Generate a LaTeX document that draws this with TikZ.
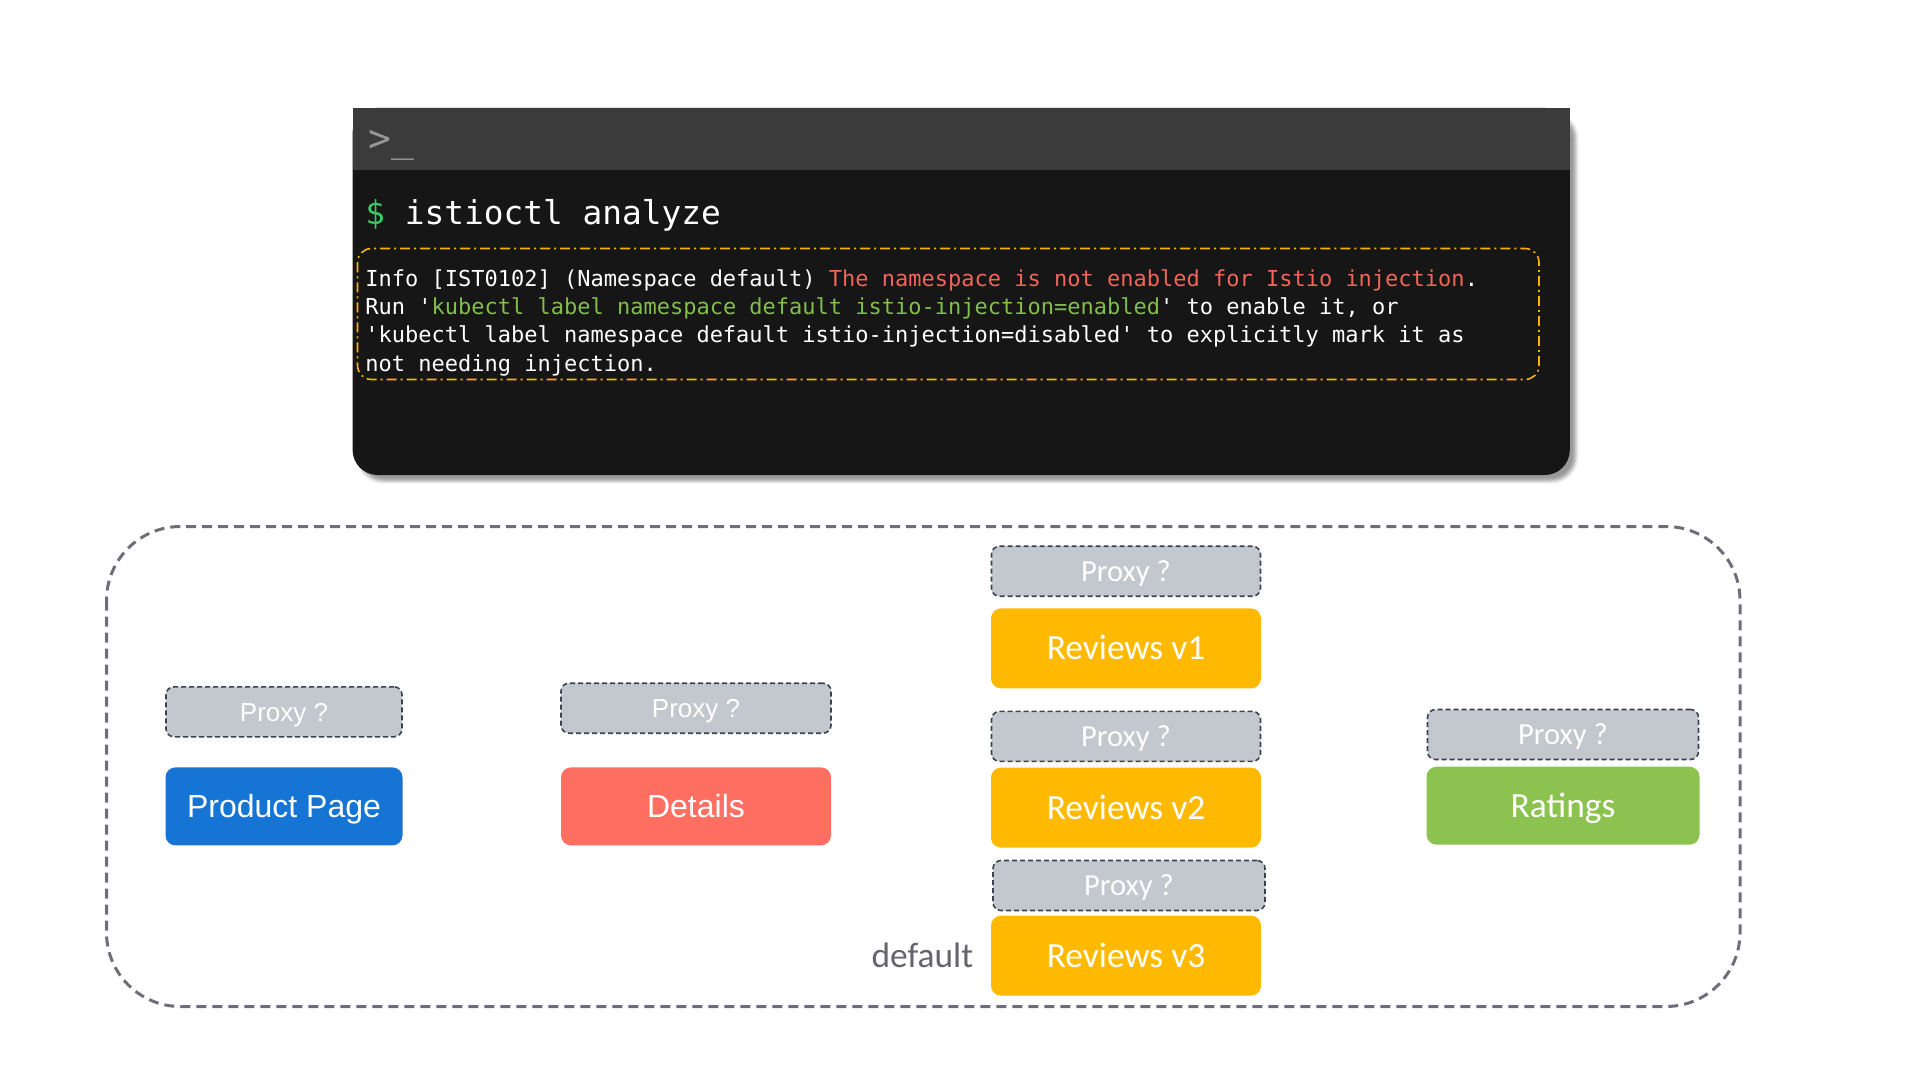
\documentclass[tikz,border=0pt]{standalone}
\usepackage{fontspec}
\usepackage{tikz}
\usetikzlibrary{positioning,shadows,shadows.blur}
\newfontfamily\termfont[Ligatures=TeXOff]{DejaVu Sans Mono}
\newfontfamily\arialfont{Liberation Sans}
\newfontfamily\calfont{Carlito}
\definecolor{termbg}{RGB}{22,22,22}
\definecolor{titlebar}{RGB}{60,59,60}
\definecolor{promptgray}{RGB}{150,150,150}
\definecolor{dollargreen}{RGB}{62,200,100}
\definecolor{warnorange}{RGB}{245,180,0}
\definecolor{errred}{RGB}{241,100,90}
\definecolor{okgreen}{RGB}{130,190,74}
\definecolor{nsline}{RGB}{110,110,120}
\definecolor{nstext}{RGB}{100,100,108}
\definecolor{proxygray}{RGB}{195,199,206}
\definecolor{proxyline}{RGB}{59,66,82}
\definecolor{ppblue}{RGB}{21,116,212}
\definecolor{detred}{RGB}{255,111,97}
\definecolor{revamber}{RGB}{255,186,0}
\definecolor{ratgreen}{RGB}{140,194,80}

\begin{document}
\begin{tikzpicture}[x=0.5pt,y=-0.5pt,
  svc/.style={rounded corners=5pt,text=white,minimum width=135pt,minimum height=39pt,inner sep=0pt},
  proxy/.style={draw=proxyline,line width=.8pt,dash pattern=on 2.5pt off 1.5pt,fill=proxygray,rounded corners=4pt,text=white,minimum width=135pt,minimum height=25pt,inner sep=0pt},
  term/.style={anchor=base west,inner sep=0pt,text=white,font=\termfont\fontsize{11}{13}\selectfont},
  arialbig/.style={font=\arialfont\fontsize{16}{19}\selectfont,text height=11.5pt,text depth=0pt},
  arialsmall/.style={font=\arialfont\fontsize{13}{16}\selectfont,text height=9.3pt,text depth=0pt},
  calbig/.style={font=\calfont\fontsize{17.7}{21}\selectfont,text height=11.4pt,text depth=0pt},
  calsmall/.style={font=\calfont\fontsize{15.3}{18}\selectfont,text height=9.9pt,text depth=0pt}]
\useasboundingbox (0,0) rectangle (1920,1080);
%the terminal window
\fill[termbg,rounded corners=12.5pt,blur shadow={shadow xshift=3pt,shadow yshift=-3pt}] (352.6,107.8) rectangle (1569.8,475);
\fill[titlebar] (352.6,107.8) rectangle (1569.8,170.2);
\node[anchor=base west,inner sep=0pt,text=promptgray,font=\termfont\fontsize{19}{22}\selectfont] (prompt) at (368,152) {>\_};
\node[anchor=base west,inner sep=0pt,text=white,font=\termfont\fontsize{16.4}{20}\selectfont] (cmd) at (365,225) {\textcolor{dollargreen}{\$} istioctl analyze};
%the message of istioctl
\draw[warnorange,line width=.8pt,dash pattern=on 5pt off 2pt on 1pt off 2pt,rounded corners=7pt] (357.5,248.5) rectangle (1539,379.5);
\node[term] (msg1) at (365,286.5) {Info [IST0102] (Namespace default) \textcolor{errred}{The namespace is not enabled for Istio injection}.};
\node[term] (msg2) at (365,314.6) {Run '\textcolor{okgreen}{kubectl label namespace default istio-injection=enabled}' to enable it, or};
\node[term] (msg3) at (365,342.7) {'kubectl label namespace default istio-injection=disabled' to explicitly mark it as};
\node[term] (msg4) at (365,371.3) {not needing injection.};
%namespace default
\draw[nsline,line width=1.5pt,dash pattern=on 5pt off 3pt,rounded corners=37pt] (106.5,526.5) rectangle (1740,1006.5);
%product page and details
\node[svc,arialbig,fill=ppblue,minimum width=118.5pt] (pp) at (284,806.4) {Product Page};
\node[proxy,arialsmall,minimum width=118pt,above=14.7pt of pp] (pproxy) {Proxy ?};
\node[svc,arialbig,fill=detred] (det) at (696,806.4) {Details};
\node[proxy,arialsmall,above=16.5pt of det] (detproxy) {Proxy ?};
%reviews v1, v2, v3
\node[svc,calbig,fill=revamber,minimum height=40pt] (rev1) at (1126,648.4) {Reviews v1};
\node[proxy,calsmall,minimum width=134.5pt,above=5.5pt of rev1] (rev1proxy) {Proxy ?};
\node[svc,calbig,fill=revamber,minimum height=40pt] (rev2) at (1126,807.6) {Reviews v2};
\node[proxy,calsmall,minimum width=134.5pt,above=2.5pt of rev2] (rev2proxy) {Proxy ?};
\node[svc,calbig,fill=revamber,minimum height=40pt] (rev3) at (1126,955.7) {Reviews v3};
\node[proxy,calsmall,minimum width=136pt,above=2pt of rev3,xshift=1.5pt] (rev3proxy) {Proxy ?};
%ratings
\node[svc,calbig,fill=ratgreen,minimum width=136.5pt] (rat) at (1563,805.7) {Ratings};
\node[proxy,calsmall,minimum width=135.5pt,above=3pt of rat] (ratproxy) {Proxy ?};
\node[calbig,text=nstext,inner sep=0pt,left=8.5pt of rev3] (ns) {default};
\end{tikzpicture}
\end{document}
